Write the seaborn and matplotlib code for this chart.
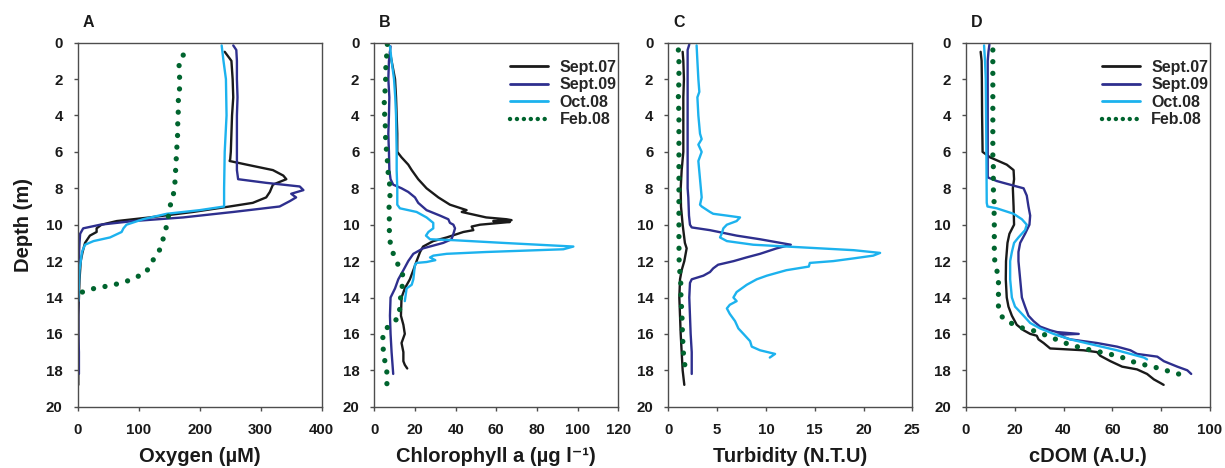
import numpy as np
import pandas as pd
import matplotlib
matplotlib.use("Agg")
import matplotlib.pyplot as plt
from matplotlib.lines import Line2D
import seaborn as sns

sns.set_theme(style="white")
plt.rcParams['font.family'] = ['Liberation Sans', 'DejaVu Sans']
plt.rcParams['font.weight'] = 'bold'

SERIES = ["Sept.07", "Sept.09", "Oct.08", "Feb.08"]
COLORS = {"Sept.07": "#1a1a1a", "Sept.09": "#2e2f8e", "Oct.08": "#1cb2ee", "Feb.08": "#00642e"}

# ---------------- Panel A: Oxygen (uM) ----------------
oxy_s07_depth = [0.5, 0.86, 1.0, 2.0, 3.0, 4.0, 5.0, 6.0, 6.4, 6.5, 6.7, 7.0, 7.3, 7.5, 7.8, 8.2, 8.5, 8.8, 9.0, 9.3, 9.6, 9.8, 10.0, 10.2, 10.4, 10.6, 11.0, 11.5, 12.0, 13.0, 14.0, 15.0, 16.0, 17.0, 18.0, 18.8]
oxy_s07_value = [241, 249, 252, 254, 255, 253, 252, 251, 250, 249, 277, 320, 337, 342, 320, 315, 309, 287, 249, 189, 118, 64, 39, 31, 31, 20, 12, 8, 5, 3, 2, 1, 1, 1, 1, 1]
oxy_s09_depth = [0.15, 0.4, 1.0, 2.0, 3.0, 4.0, 5.0, 6.0, 7.0, 7.5, 7.7, 7.9, 8.1, 8.3, 8.5, 8.7, 9.0, 9.3, 9.6, 9.8, 10.0, 10.2, 10.5, 11.0, 12.5, 14.0, 16.0, 17.0, 18.2]
oxy_s09_value = [255, 260, 261, 261, 262, 261, 261, 261, 261, 263, 309, 364, 370, 350, 358, 348, 331, 255, 173, 91, 37, 9, 4, 3, 1, 1, 1, 2, 2]
oxy_o08_depth = [0.15, 1.0, 2.0, 4.0, 6.0, 8.0, 9.0, 9.2, 9.4, 9.7, 10.0, 10.2, 10.4, 10.7, 10.9, 11.1, 11.5, 12.5, 14.2]
oxy_o08_value = [236, 239, 243, 244, 241, 240, 240, 200, 146, 107, 80, 75, 72, 53, 26, 12, 7, 3, 1]
oxy_f08_depth = [0.68, 1.08, 1.90, 2.51, 3.11, 3.70, 4.30, 4.91, 5.49, 6.10, 6.70, 7.31, 7.91, 8.50, 9.12, 9.71, 10.31, 10.90, 11.50, 12.11, 12.64, 12.91, 13.17, 13.32, 13.44, 13.55, 13.77]
oxy_f08_value = [173, 166, 167, 167, 165, 165, 164, 164, 163, 162, 161, 160, 159, 156, 150, 148, 144, 139, 133, 120, 112, 94, 76, 56, 38, 20, 2]

# ---------------- Panel B: Chlorophyll a ----------------
chl_s07_depth = [0.5, 1.0, 2.0, 3.0, 4.0, 5.0, 6.0, 6.3, 6.7, 7.0, 7.5, 8.0, 8.5, 8.9, 9.2, 9.3, 9.4, 9.6, 9.7, 9.75, 9.8, 9.85, 9.9, 10.0, 10.1, 10.3, 10.4, 10.7, 10.9, 11.2, 11.5, 12.0, 12.5, 13.0, 13.5, 14.0, 15.0, 15.5, 16.0, 16.5, 17.0, 17.5, 17.7, 17.9]
chl_s07_value = [7.7, 8.5, 10.2, 10.7, 11.0, 11.3, 11.3, 13.4, 16.7, 18.4, 21.6, 25.7, 31.5, 37.2, 45.4, 43.0, 47.0, 55.0, 65.0, 67.5, 58.5, 66.7, 61.8, 52.0, 47.9, 48.7, 43.8, 35.6, 29.0, 24.0, 22.5, 20.8, 19.2, 17.5, 15.0, 13.4, 13.1, 14.3, 15.0, 13.4, 14.3, 14.3, 15.0, 16.2]
chl_s09_depth = [0.2, 0.5, 1.0, 2.0, 3.0, 4.0, 5.0, 6.0, 7.0, 7.5, 7.8, 8.0, 8.2, 8.5, 8.8, 9.2, 9.5, 9.7, 9.9, 10.0, 10.2, 10.5, 10.8, 11.0, 11.3, 11.6, 12.0, 12.5, 13.0, 13.5, 14.0, 15.0, 16.0, 17.0, 18.2]
chl_s09_value = [8.0, 7.7, 7.2, 6.9, 7.4, 7.2, 6.9, 7.2, 7.4, 8.0, 9.3, 13.4, 16.7, 20.0, 21.6, 25.7, 32.3, 36.4, 37.2, 38.9, 39.7, 38.9, 38.0, 33.9, 24.0, 19.2, 16.7, 14.3, 11.8, 10.2, 8.0, 7.7, 8.0, 8.5, 9.3]
chl_o08_depth = [0.2, 1.0, 2.0, 3.0, 4.0, 6.0, 7.0, 8.0, 8.9, 9.1, 9.3, 9.6, 9.9, 10.2, 10.4, 10.6, 10.8, 10.85, 11.0, 11.2, 11.35, 11.5, 11.6, 11.7, 11.8, 11.95, 12.05, 12.1, 12.2, 13.0, 13.3, 13.5, 14.2]
chl_o08_value = [7.7, 8.5, 9.7, 10.3, 10.7, 11.0, 11.0, 11.3, 11.3, 12.6, 20.8, 25.7, 29.0, 29.0, 26.6, 25.4, 27.4, 38.9, 63.4, 97.9, 93.0, 55.0, 35.6, 29.0, 27.4, 30.0, 25.7, 20.8, 20.0, 19.2, 18.4, 15.9, 15.0]
chl_f08_depth = [0.09, 0.68, 1.28, 1.90, 2.51, 3.11, 3.70, 4.30, 4.91, 5.49, 6.10, 6.70, 7.31, 7.91, 8.50, 9.12, 9.71, 10.31, 10.90, 11.50, 12.11, 12.71, 13.32, 13.90, 14.51, 15.11, 15.51, 15.97, 16.57, 17.20, 17.80, 18.41, 19.01]
chl_f08_value = [6.4, 6.1, 5.7, 5.6, 5.4, 4.9, 4.9, 5.4, 5.4, 5.7, 6.1, 6.6, 6.9, 7.7, 7.7, 7.2, 7.4, 7.4, 7.7, 9.0, 11.3, 13.9, 13.8, 13.0, 12.6, 12.0, 7.4, 4.1, 4.4, 4.4, 6.1, 6.2, 6.2]

# ---------------- Panel C: Turbidity ----------------
tur_s07_depth = [0.5, 1.0, 2.0, 3.0, 4.0, 5.0, 6.0, 7.0, 8.0, 9.0, 10.0, 11.0, 11.3, 12.0, 12.5, 13.0, 14.0, 15.0, 16.0, 17.0, 18.0, 18.8]
tur_s07_value = [1.47, 1.54, 1.60, 1.54, 1.54, 1.54, 1.54, 1.37, 1.27, 1.30, 1.47, 1.70, 1.88, 1.64, 1.37, 1.20, 1.13, 1.20, 1.27, 1.37, 1.47, 1.64]
tur_s09_depth = [0.1, 0.4, 1.0, 2.0, 4.0, 6.0, 8.0, 8.5, 9.5, 10.0, 10.15, 10.3, 10.6, 10.8, 11.0, 11.1, 11.3, 11.6, 11.8, 12.0, 12.2, 12.4, 12.6, 12.8, 13.0, 13.2, 14.0, 15.0, 16.0, 17.0, 18.2]
tur_s09_value = [2.15, 1.98, 1.98, 1.98, 1.98, 1.98, 1.98, 2.05, 2.12, 2.22, 2.40, 4.27, 7.0, 9.4, 11.5, 12.55, 11.1, 9.4, 8.0, 6.7, 5.1, 4.6, 4.27, 3.6, 2.4, 2.22, 2.15, 2.22, 2.29, 2.40, 2.40]
tur_o08_depth = [0.15, 1.0, 2.0, 2.7, 3.0, 4.0, 5.0, 5.3, 5.6, 6.0, 6.5, 7.5, 8.5, 8.9, 9.0, 9.3, 9.4, 9.5, 9.6, 9.8, 10.0, 10.2, 10.5, 10.7, 10.9, 11.1, 11.25, 11.4, 11.55, 11.7, 11.85, 12.0, 12.1, 12.3, 12.5, 12.8, 13.0, 13.3, 13.7, 14.0, 14.2, 14.4, 14.6, 14.9, 15.3, 15.7, 16.0, 16.4, 16.7, 16.9, 17.1, 17.3]
tur_o08_value = [2.90, 2.98, 3.08, 3.18, 2.98, 3.08, 3.25, 3.42, 3.08, 3.42, 3.08, 3.25, 3.42, 3.25, 3.42, 4.27, 4.6, 6.0, 7.35, 7.0, 6.0, 5.64, 5.47, 5.3, 6.0, 8.7, 13.85, 19.0, 21.7, 21.0, 19.0, 16.9, 14.5, 14.4, 12.1, 10.1, 9.06, 8.04, 7.0, 6.67, 7.0, 6.3, 6.0, 6.3, 6.84, 7.18, 7.7, 8.38, 8.55, 9.4, 10.94, 10.4]
tur_f08_depth = [0.40, 1.0, 2.0, 3.0, 4.0, 5.0, 6.0, 7.0, 8.0, 9.0, 10.0, 11.0, 12.3, 13.0, 14.0, 15.0, 16.0, 17.0, 17.8]
tur_f08_value = [1.03, 1.09, 1.09, 1.03, 1.09, 1.09, 1.09, 1.09, 1.09, 1.09, 1.09, 1.09, 1.12, 1.27, 1.30, 1.40, 1.45, 1.54, 1.71]

# ---------------- Panel D: cDOM ----------------
cdom_s07_depth = [0.5, 1.0, 2.0, 4.0, 6.0, 6.3, 6.5, 6.7, 7.0, 7.5, 8.0, 9.0, 10.0, 10.5, 11.0, 12.0, 13.0, 14.0, 14.5, 15.0, 15.5, 15.8, 16.0, 16.1, 16.3, 16.5, 16.8, 16.85, 16.9, 17.0, 17.2, 17.5, 17.8, 17.95, 18.2, 18.5, 18.7, 18.8]
cdom_s07_value = [6.0, 6.4, 6.5, 6.6, 6.8, 9.9, 13.3, 16.7, 19.5, 19.7, 19.2, 19.5, 19.7, 17.8, 17.0, 16.4, 16.3, 16.7, 17.4, 18.8, 20.8, 23.6, 26.3, 29.0, 29.7, 31.8, 34.5, 41.4, 48.2, 53.7, 55.0, 59.2, 64.0, 70.1, 74.2, 77.0, 79.7, 81.0]
cdom_s09_depth = [0.1, 0.5, 1.0, 3.0, 5.0, 7.4, 7.6, 7.7, 7.9, 8.0, 8.4, 9.0, 9.5, 10.0, 10.5, 11.0, 11.5, 12.0, 13.0, 14.0, 14.5, 15.0, 15.3, 15.6, 15.8, 15.9, 16.0, 16.05, 16.3, 16.5, 16.7, 16.9, 17.1, 17.25, 17.5, 17.8, 18.0, 18.2]
cdom_s09_value = [9.6, 9.2, 8.9, 8.9, 8.9, 8.9, 12.6, 15.3, 20.8, 23.6, 24.9, 25.6, 26.3, 26.0, 24.2, 22.2, 21.5, 21.5, 22.2, 22.9, 24.2, 25.6, 27.7, 30.4, 34.5, 37.3, 46.2, 37.3, 42.7, 53.7, 61.9, 67.4, 70.1, 78.4, 81.1, 86.6, 90.7, 92.3]
cdom_o08_depth = [0.15, 1.0, 2.0, 5.0, 8.8, 9.0, 9.1, 9.4, 9.7, 10.0, 10.3, 10.7, 11.0, 11.5, 12.0, 13.0, 14.0, 14.5, 15.0, 15.4, 15.7, 16.0, 16.3, 16.6, 16.9, 17.1, 17.3, 17.4]
cdom_o08_value = [7.4, 7.8, 8.1, 8.3, 8.5, 8.8, 12.6, 19.5, 22.9, 24.9, 24.2, 21.5, 19.7, 18.8, 18.1, 18.1, 18.8, 20.1, 23.6, 26.3, 30.4, 35.9, 42.7, 52.3, 61.9, 67.4, 72.9, 74.2]
cdom_f08_depth = [0.40, 0.95, 1.54, 2.14, 2.69, 3.30, 3.88, 4.47, 5.07, 5.66, 6.23, 6.81, 7.42, 8.02, 8.61, 9.19, 9.78, 10.38, 10.97, 11.58, 12.22, 12.80, 13.37, 13.96, 14.56, 15.15, 15.46, 15.70, 15.84, 16.06, 16.30, 16.52, 16.70, 16.85, 16.98, 17.11, 17.25, 17.49, 17.67, 17.80, 17.98, 18.13, 18.32]
cdom_f08_value = [11.0, 11.0, 11.0, 11.0, 11.0, 11.0, 11.0, 11.0, 11.0, 11.0, 11.0, 11.2, 11.2, 11.2, 11.5, 11.5, 11.6, 11.6, 11.6, 11.6, 11.9, 13.3, 13.3, 13.3, 13.3, 15.1, 19.2, 23.6, 28.1, 32.5, 36.9, 41.1, 45.5, 49.9, 54.4, 58.8, 63.3, 67.4, 72.2, 76.7, 81.1, 85.6, 89.6]

PANELS = [
    ("A", "Oxygen (µM)", (0, 400), [0, 100, 200, 300, 400],
     [(oxy_s07_depth, oxy_s07_value), (oxy_s09_depth, oxy_s09_value), (oxy_o08_depth, oxy_o08_value), (oxy_f08_depth, oxy_f08_value)], False),
    ("B", "Chlorophyll a (µg l\u207b\u00b9)", (0, 120), [0, 20, 40, 60, 80, 100, 120],
     [(chl_s07_depth, chl_s07_value), (chl_s09_depth, chl_s09_value), (chl_o08_depth, chl_o08_value), (chl_f08_depth, chl_f08_value)], True),
    ("C", "Turbidity (N.T.U)", (0, 25), [0, 5, 10, 15, 20, 25],
     [(tur_s07_depth, tur_s07_value), (tur_s09_depth, tur_s09_value), (tur_o08_depth, tur_o08_value), (tur_f08_depth, tur_f08_value)], False),
    ("D", "cDOM (A.U.)", (0, 100), [0, 20, 40, 60, 80, 100],
     [(cdom_s07_depth, cdom_s07_value), (cdom_s09_depth, cdom_s09_value), (cdom_o08_depth, cdom_o08_value), (cdom_f08_depth, cdom_f08_value)], True),
]

LEFTS = [77.7, 374.3, 668.3, 966.0]
W_PX, H_PX = 1225, 468
fig = plt.figure(figsize=(W_PX / 100, H_PX / 100), dpi=100)

spine_col = "#4d4d4d"
text_col = "#1a1a1a"
DOT_LW = 3.8
for (letter, xlabel, xlim, xticks, data, show_leg), left in zip(PANELS, LEFTS):
    ax = fig.add_axes([left / W_PX, 1 - 406.7 / H_PX, 244 / W_PX, (406.7 - 42.7) / H_PX])
    for name, (dep, val) in zip(SERIES, data):
        df = pd.DataFrame({"value": val, "depth": dep})
        if name == "Feb.08":
            sns.lineplot(data=df, x="value", y="depth", sort=False, estimator=None, ax=ax,
                         color=COLORS[name], linewidth=DOT_LW, linestyle=(0, (0.01, 2.2)),
                         dash_capstyle="round", legend=False)
        else:
            sns.lineplot(data=df, x="value", y="depth", sort=False, estimator=None, ax=ax,
                         color=COLORS[name], linewidth=1.7, legend=False)
    ax.set_xlim(*xlim)
    ax.set_ylim(20, 0)
    ax.set_xticks(xticks)
    ax.set_yticks(range(0, 21, 2))
    ax.tick_params(axis="both", direction="out", length=2.8, width=1, color=spine_col,
                   labelsize=10.8, bottom=True, left=True)
    ax.tick_params(axis="x", pad=9)
    ax.tick_params(axis="y", pad=8)
    for lab in ax.get_xticklabels() + ax.get_yticklabels():
        lab.set_fontweight("bold")
        lab.set_color(text_col)
    for sp in ax.spines.values():
        sp.set_color(spine_col)
        sp.set_linewidth(1.0)
    ax.set_xlabel(xlabel, fontsize=14.5, fontweight="bold", color=text_col, labelpad=7)
    if letter == "A":
        ax.set_ylabel("Depth (m)", fontsize=14.5, fontweight="bold", color=text_col, labelpad=9)
    else:
        ax.set_ylabel("")
    ax.text(0.02, 1.055, letter, transform=ax.transAxes, fontsize=11.5, fontweight="bold",
            color=text_col, va="center", ha="left")
    if show_leg:
        handles = [
            Line2D([], [], color=COLORS["Sept.07"], linewidth=2.0),
            Line2D([], [], color=COLORS["Sept.09"], linewidth=2.0),
            Line2D([], [], color=COLORS["Oct.08"], linewidth=2.0),
            Line2D([], [], color=COLORS["Feb.08"], linewidth=3.2, linestyle=(0, (0.01, 1.55)),
                   dash_capstyle="round"),
        ]
        ax.legend(handles, SERIES, loc="upper left", bbox_to_anchor=(0.53, 0.97), frameon=False,
                  prop={"weight": "bold", "size": 11.5}, handlelength=2.4, handletextpad=0.7,
                  labelspacing=0.15, borderaxespad=0.0)

fig.savefig("out.png", dpi=100)
